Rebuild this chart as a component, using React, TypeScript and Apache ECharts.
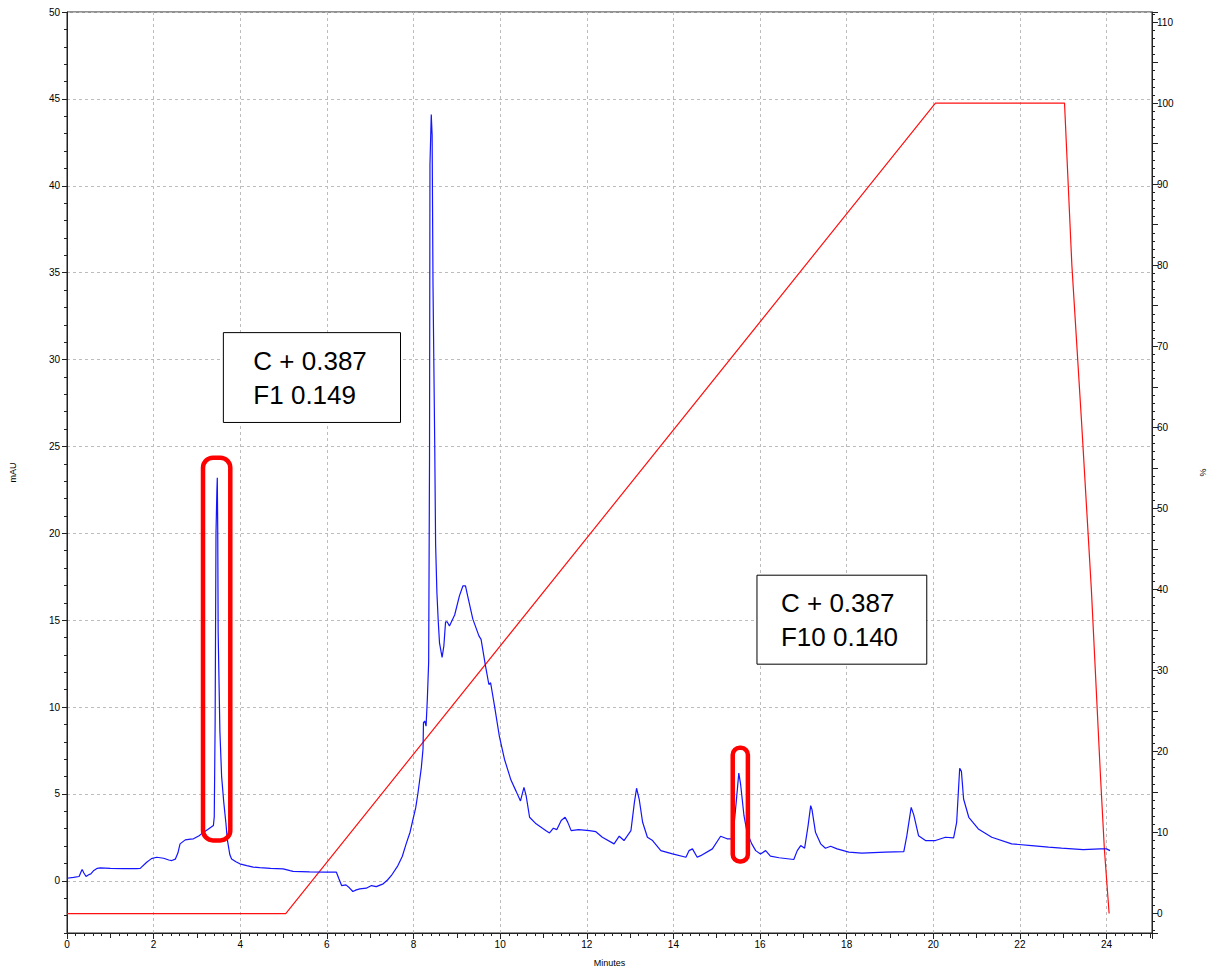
import React, { useEffect, useRef } from "react";
import * as echarts from "echarts";

// UV trace (mAU) against retention time (minutes)
const traceMinutes = [
  0.0, 0.15, 0.28, 0.33, 0.35, 0.39, 0.44, 0.5, 0.55, 0.62, 0.7, 0.77, 1.0, 1.3, 1.6, 1.69, 1.84, 1.95, 2.07,
  2.23, 2.35, 2.42, 2.5, 2.56, 2.61, 2.73, 2.85, 2.92, 3.05, 3.11, 3.25, 3.38, 3.4, 3.42, 3.44, 3.46, 3.47,
  3.48, 3.49, 3.53, 3.57, 3.62, 3.67, 3.7, 3.76, 3.8, 3.9, 3.99, 4.15, 4.3, 4.45, 4.7, 4.99, 5.15, 5.22, 5.6,
  6.0, 6.22, 6.28, 6.34, 6.44, 6.52, 6.6, 6.68, 6.76, 6.91, 7.03, 7.14, 7.3, 7.4, 7.49, 7.64, 7.74, 7.83, 7.92,
  7.99, 8.05, 8.1, 8.18, 8.22, 8.23, 8.26, 8.29, 8.32, 8.35, 8.37, 8.38, 8.41, 8.43, 8.45, 8.49, 8.51, 8.54,
  8.57, 8.6, 8.66, 8.7, 8.74, 8.78, 8.83, 8.95, 9.06, 9.14, 9.2, 9.25, 9.37, 9.51, 9.56, 9.66, 9.74, 9.78,
  9.87, 9.98, 10.1, 10.25, 10.37, 10.47, 10.55, 10.6, 10.68, 10.83, 11.06, 11.14, 11.23, 11.31, 11.41, 11.5,
  11.56, 11.64, 11.81, 12.06, 12.21, 12.36, 12.63, 12.75, 12.86, 13.02, 13.1, 13.15, 13.21, 13.29, 13.4,
  13.52, 13.71, 13.98, 14.29, 14.36, 14.44, 14.55, 14.63, 14.9, 15.09, 15.24, 15.37, 15.45, 15.51, 15.55,
  15.63, 15.7, 15.81, 15.9, 16.01, 16.13, 16.24, 16.44, 16.78, 16.86, 16.94, 17.03, 17.11, 17.17, 17.2,
  17.28, 17.4, 17.51, 17.63, 17.78, 18.05, 18.35, 18.89, 19.32, 19.39, 19.49, 19.55, 19.66, 19.82, 20.05,
  20.28, 20.47, 20.54, 20.61, 20.65, 20.7, 20.82, 21.04, 21.35, 21.81, 22.27, 22.66, 22.96, 23.46, 23.85,
  24.0, 24.08,
];
const traceMau = [
  0.15, 0.2, 0.25, 0.55, 0.65, 0.45, 0.25, 0.35, 0.4, 0.6, 0.72, 0.75, 0.72, 0.7, 0.7, 0.72, 1.07, 1.28, 1.36,
  1.3, 1.2, 1.17, 1.25, 1.6, 2.13, 2.36, 2.4, 2.42, 2.6, 2.72, 2.95, 3.18, 3.7, 9.1, 20.0, 22.4, 23.2,
  20.2, 14.3, 8.6, 6.0, 4.5, 3.3, 2.4, 1.5, 1.26, 1.1, 0.98, 0.88, 0.79, 0.76, 0.72, 0.69, 0.59, 0.55, 0.52,
  0.5, 0.5, 0.11, -0.27, -0.23, -0.4, -0.61, -0.52, -0.46, -0.42, -0.27, -0.33, -0.17, 0.05, 0.31, 0.88, 1.4, 2.13, 2.8,
  3.56, 4.2, 5.0, 6.5, 7.6, 9.1, 9.2, 8.9, 10.5, 12.6, 24.4, 41.2, 44.1, 42.9, 34.3, 25.1, 19.4, 16.6,
  15.0, 13.7, 12.86, 13.5, 14.9, 14.9, 14.67, 15.3, 16.4, 16.97, 16.97, 16.4, 15.06, 14.1, 13.9, 12.4, 11.3, 11.4,
  10.07, 8.35, 7.0, 5.8, 5.15, 4.6, 5.38, 4.9, 3.66, 3.28, 2.89, 2.76, 3.03, 2.95, 3.47, 3.66,
  3.38, 2.89, 2.95, 2.89, 2.83, 2.51, 2.13, 2.57, 2.32, 2.89, 4.52, 5.33, 4.71, 3.37, 2.51,
  2.32, 1.74, 1.55, 1.36, 1.74, 1.84, 1.36, 1.45, 1.84, 2.57, 2.42, 2.42, 4.52, 6.2, 5.6,
  3.75, 2.8, 2.13, 1.74, 1.55, 1.74, 1.42, 1.33, 1.23, 1.74, 2.03, 1.88, 3.18, 4.33, 4.1,
  2.8, 2.13, 1.88, 1.99, 1.84, 1.65, 1.6, 1.65, 1.68, 2.6, 4.23, 3.8, 2.6, 2.32, 2.32,
  2.51, 2.47, 3.37, 6.48, 6.3, 4.71, 3.66, 2.99, 2.51, 2.13, 2.03, 1.94, 1.88, 1.8, 1.84,
  1.84, 1.74,
];

// Solvent gradient (%B) program
const gradientMinutes = [0, 5.05, 20.05, 23.03, 23.2, 23.42, 23.65, 23.86, 23.95, 24.06];
const gradientPercent = [0, 0, 100, 100, 80, 61, 40, 17, 8, 0];

// Axis ranges
const timeRange = [0, 25.05];
const mauRange = [-3, 50];
const percentRange = [-2.4, 111.24];

// Fraction windows marked on the trace (minutes, mAU)
const fractionWindows = [
  { t0: 3.14, t1: 3.77, v0: 2.33, v1: 24.35, r: 10 },
  { t0: 15.37, t1: 15.72, v0: 1.12, v1: 7.66, r: 7 },
];

// Callout boxes (minutes, mAU) with their text
const callouts = [
  { t0: 3.61, t1: 7.7, v0: 26.38, v1: 31.55, pad: 30, lines: ["C + 0.387", "F1 0.149"] },
  { t0: 15.93, t1: 19.85, v0: 12.47, v1: 17.59, pad: 24, lines: ["C + 0.387", "F10 0.140"] },
];

const FONT = "'Liberation Sans', Arial, sans-serif";
const AXIS = "#222";
const GRID = "#bcbcbc";

const zip = (xs: number[], ys: number[]) => xs.map((x, i) => [x, ys[i]]);

export default function App() {
  const ref = useRef<HTMLDivElement>(null);

  useEffect(() => {
    if (!ref.current) return;
    const chart = echarts.init(ref.current, null, { renderer: "svg" });

    const tickLabel = { color: "#000", fontSize: 10, fontFamily: FONT };
    const isMultiple = (v: number, m: number) => Math.abs(v / m - Math.round(v / m)) < 1e-6;

    chart.setOption({
      animation: false,
      backgroundColor: "#fff",
      grid: {
        left: 67,
        right: 61,
        top: 12,
        bottom: 37,
        show: true,
        borderColor: AXIS,
        borderWidth: 1,
        backgroundColor: "transparent",
      },
      xAxis: [
        {
          type: "value",
          position: "bottom",
          min: timeRange[0],
          max: timeRange[1],
          interval: 2,
          name: "Minutes",
          nameLocation: "middle",
          nameGap: 25,
          nameTextStyle: { color: "#000", fontSize: 9, fontFamily: FONT },
          axisLine: { onZero: false, lineStyle: { color: AXIS, width: 1 } },
          axisTick: { length: 6, lineStyle: { color: AXIS } },
          axisLabel: {
            ...tickLabel,
            margin: 6,
            formatter: (v: number) => (isMultiple(v, 2) ? String(Math.round(v)) : ""),
          },
          splitLine: { show: true, lineStyle: { color: GRID, type: [3, 3], width: 1 } },
        },
        {
          type: "value",
          position: "bottom",
          min: timeRange[0],
          max: timeRange[1],
          interval: 1,
          axisLine: { show: false, onZero: false },
          axisTick: { length: 5, lineStyle: { color: AXIS } },
          minorTick: { show: true, splitNumber: 5, length: 3, lineStyle: { color: AXIS } },
          axisLabel: { show: false },
          splitLine: { show: false },
        },
      ],
      yAxis: [
        {
          type: "value",
          position: "left",
          min: mauRange[0],
          max: mauRange[1],
          minInterval: 5,
          maxInterval: 5,
          splitNumber: 10,
          name: "mAU",
          nameLocation: "middle",
          nameGap: 50,
          nameRotate: 90,
          nameTextStyle: { color: "#000", fontSize: 9, fontFamily: FONT },
          axisLine: { show: true, onZero: false, lineStyle: { color: AXIS, width: 1 } },
          axisTick: { show: true, length: 5, lineStyle: { color: AXIS } },
          axisLabel: {
            ...tickLabel,
            margin: 7,
            showMinLabel: false,
            formatter: (v: number) => (isMultiple(v, 5) && v >= 0 ? String(Math.round(v)) : ""),
          },
          splitLine: { show: true, lineStyle: { color: GRID, type: [3, 3], width: 1 } },
        },
        {
          type: "value",
          position: "left",
          min: mauRange[0],
          max: mauRange[1],
          interval: 1,
          axisLine: { show: false, onZero: false },
          axisTick: { show: true, length: 3, lineStyle: { color: AXIS } },
          axisLabel: { show: false },
          splitLine: { show: false },
        },
        {
          type: "value",
          position: "right",
          min: percentRange[0],
          max: percentRange[1],
          minInterval: 5,
          maxInterval: 5,
          name: "%",
          nameLocation: "middle",
          nameGap: 46,
          nameRotate: 90,
          nameTextStyle: { color: "#000", fontSize: 9, fontFamily: FONT },
          axisLine: { show: true, onZero: false, lineStyle: { color: AXIS, width: 1 } },
          axisTick: { show: true, length: 6, lineStyle: { color: AXIS } },
          axisLabel: {
            ...tickLabel,
            margin: 5,
            formatter: (v: number) => (isMultiple(v, 10) && v >= 0 ? String(Math.round(v)) : ""),
          },
          splitLine: { show: false },
        },
        {
          type: "value",
          position: "right",
          min: percentRange[0],
          max: percentRange[1],
          minInterval: 1,
          maxInterval: 1,
          axisLine: { show: false, onZero: false },
          axisTick: { show: true, length: 3, lineStyle: { color: AXIS } },
          axisLabel: { show: false },
          splitLine: { show: false },
        },
      ],
      series: [
        {
          name: "mAU",
          type: "line",
          xAxisIndex: 0,
          yAxisIndex: 0,
          data: zip(traceMinutes, traceMau),
          showSymbol: false,
          symbol: "none",
          lineStyle: { color: "#1414ff", width: 1.2 },
          z: 3,
        },
        {
          name: "%B",
          type: "line",
          xAxisIndex: 0,
          yAxisIndex: 2,
          data: zip(gradientMinutes, gradientPercent),
          showSymbol: false,
          symbol: "none",
          lineStyle: { color: "#ff1010", width: 1.2 },
          z: 2,
        },
      ],
    });

    const px = (t: number, v: number) => chart.convertToPixel({ seriesIndex: 0 }, [t, v]) as number[];

    const graphics: any[] = [];
    fractionWindows.forEach((w) => {
      const a = px(w.t0, w.v1);
      const b = px(w.t1, w.v0);
      graphics.push({
        type: "rect",
        shape: { x: a[0], y: a[1], width: b[0] - a[0], height: b[1] - a[1], r: w.r },
        style: { fill: "none", stroke: "#ff0000", lineWidth: 4.5 },
        z: 10,
      });
    });
    callouts.forEach((c) => {
      const a = px(c.t0, c.v1);
      const b = px(c.t1, c.v0);
      graphics.push({
        type: "rect",
        shape: { x: a[0], y: a[1], width: b[0] - a[0], height: b[1] - a[1] },
        style: { fill: "#fff", stroke: "#000", lineWidth: 1 },
        z: 10,
      });
      graphics.push({
        type: "text",
        x: a[0] + c.pad,
        y: (a[1] + b[1]) / 2,
        style: {
          text: c.lines.join("\n"),
          fill: "#000",
          fontSize: 26,
          fontFamily: FONT,
          lineHeight: 34,
          align: "left",
          verticalAlign: "middle",
        },
        z: 11,
      });
    });
    chart.setOption({ graphic: graphics });

    return () => chart.dispose();
  }, []);

  return (
    <div
      ref={ref}
      style={{ position: "fixed", left: 0, top: 0, width: 1215, height: 972, background: "#fff" }}
    />
  );
}
